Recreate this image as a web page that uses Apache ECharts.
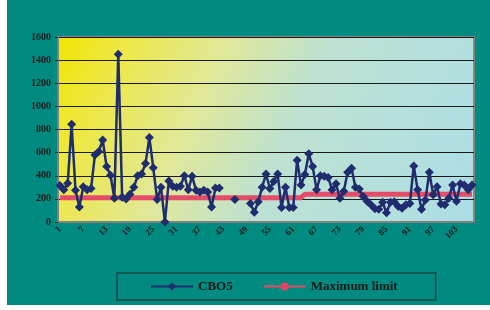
<!DOCTYPE html>
<html>
<head>
<meta charset="utf-8">
<script src="https://cdn.jsdelivr.net/npm/echarts@6/dist/echarts.min.js"></script>
<style>
  html, body { margin: 0; padding: 0; background: #ffffff; }
  #frame { position: absolute; left: 7px; top: 0; width: 483px; height: 305px; background: #008a80; }
  #chart { position: absolute; left: 0; top: 0; width: 490px; height: 310px; }
</style>
</head>
<body>
<div id="frame"></div>
<div id="chart"></div>
<script>
var chart = echarts.init(document.getElementById('chart'));

//sample number on the x axis
var samples = [];
for (var i = 1; i <= 107; i++) samples.push(String(i));

//measured CBO5 values (null = no measurement)
var cbo5 = [
    315, 280, 335, 845, 275, 130, 305, 280, 290, 580,
    610, 710, 480, 405, 205, 1450, 215, 200, 240, 300,
    400, 415, 505, 730, 470, 195, 300, 0, 355, 310,
    300, 310, 400, 280, 395, 275, 260, 275, 260, 130,
    295, 295, null, null, null, 195, null, null, null, 160,
    85, 175, 300, 415, 290, 350, 415, 125, 300, 125,
    125, 535, 320, 410, 590, 480, 280, 400, 395, 385,
    280, 330, 205, 265, 430, 465, 300, 285, 220, 180,
    150, 115, 110, 170, 80, 170, 175, 135, 120, 150,
    160, 485, 280, 110, 190, 430, 235, 305, 155, 150,
    205, 320, 180, 330, 320, 280, 320
];

//maximum limit
var maxLimit = [
    210, 210, 210, 210, 210, 210, 210, 210, 210, 210,
    210, 210, 210, 210, 210, 210, 210, 210, 210, 210,
    210, 210, 210, 210, 210, 210, 210, 210, 210, 210,
    210, 210, 210, 210, 210, 210, 210, 210, 210, 210,
    210, 210, 210, 210, 210, 210, 210, 210, 210, 210,
    210, 210, 210, 210, 210, 210, 210, 210, 210, 210,
    210, 210, 210, 240, 240, 240, 240, 240, 240, 240,
    240, 240, 240, 240, 240, 240, 240, 240, 240, 240,
    240, 240, 240, 240, 240, 240, 240, 240, 240, 240,
    240, 240, 240, 240, 240, 240, 240, 240, 240, 240,
    240, 240, 240, 240, 240, 240, 240
];

var yTicks = [0, 200, 400, 600, 800, 1000, 1200, 1400, 1600];

var font = 'Liberation Serif';

option = {
    animation: false,
    grid: {
        left: 58,
        right: 16,
        top: 37,
        bottom: 88,
        show: true,
        borderColor: '#858585',
        borderWidth: 2,
        backgroundColor: new echarts.graphic.LinearGradient(0, 0, 1, 1, [
            { offset: 0, color: '#f2e500' },
            { offset: 0.15, color: '#ede84c' },
            { offset: 0.35, color: '#dfe89c' },
            { offset: 0.55, color: '#bde2d2' },
            { offset: 1, color: '#acdde6' }
        ])
    },
    legend: {
        left: 117,
        top: 273,
        padding: [7, 38, 7, 33],
        itemGap: 30,
        itemWidth: 42,
        itemHeight: 10,
        borderColor: '#1d4744',
        borderWidth: 1.5,
        textStyle: {
            fontFamily: font,
            fontWeight: 'bold',
            fontSize: 13,
            color: '#1a1a1a'
        },
        data: ['CBO5', 'Maximum limit']
    },
    xAxis: {
        type: 'category',
        data: samples,
        boundaryGap: true,
        axisLine: { lineStyle: { color: '#808080', width: 2 } },
        axisTick: { interval: 0, length: 3, lineStyle: { color: '#222' } },
        axisLabel: {
            interval: 5,
            rotate: 45,
            margin: 6,
            fontFamily: font,
            fontWeight: 'bold',
            fontSize: 9,
            color: '#1a1a1a'
        },
        splitLine: { show: false }
    },
    yAxis: {
        type: 'value',
        min: yTicks[0],
        max: yTicks[yTicks.length - 1],
        interval: 200,
        axisLine: { show: true, lineStyle: { color: '#808080', width: 2 } },
        axisTick: { show: true, length: 3, lineStyle: { color: '#222' } },
        axisLabel: {
            margin: 7,
            formatter: function (v) { return String(v); },
            fontFamily: font,
            fontWeight: 'bold',
            fontSize: 10,
            color: '#1a1a1a'
        },
        splitLine: { lineStyle: { color: '#1a1a1a', width: 1 } }
    },
    series: [
        {
            name: 'Maximum limit',
            type: 'line',
            data: maxLimit,
            symbol: 'none',
            color: '#e8465f',
            lineStyle: { color: '#e34d6a', width: 5 },
            z: 2
        },
        {
            name: 'CBO5',
            type: 'line',
            data: cbo5,
            connectNulls: false,
            showAllSymbol: true,
            symbol: 'diamond',
            symbolSize: 9,
            color: '#1f2d6e',
            itemStyle: { color: '#1f2d6e' },
            lineStyle: { color: '#1f2d6e', width: 2.5 },
            z: 3
        }
    ]
};

chart.setOption(option);
</script>
</body>
</html>
